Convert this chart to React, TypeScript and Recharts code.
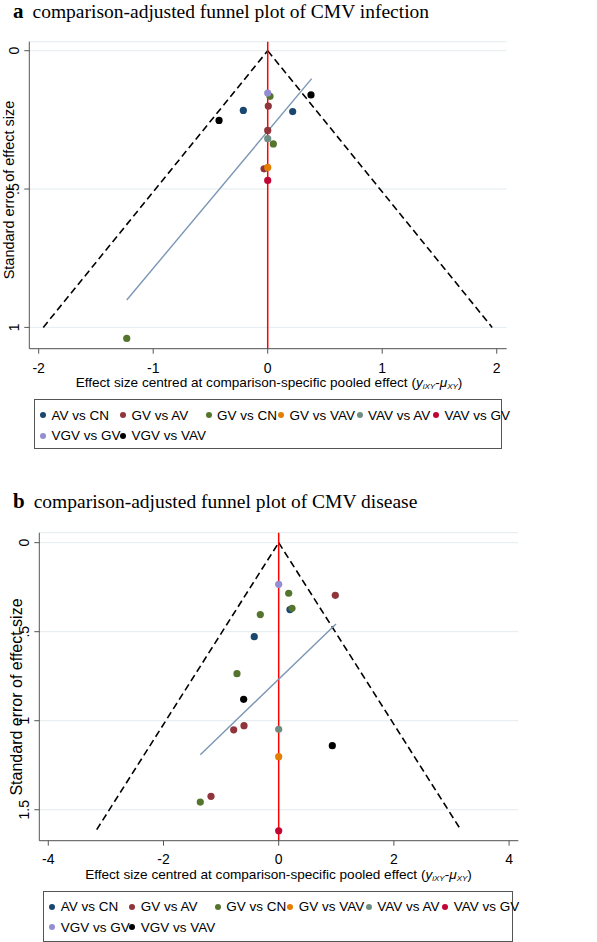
import React from 'react';
import { ComposedChart, Scatter, XAxis, YAxis, CartesianGrid, ReferenceLine } from 'recharts';

type Pt = { x: number; se: number };

const SANS = '"Liberation Sans", Arial, sans-serif';
const SERIF = '"Liberation Serif", "Times New Roman", serif';

// legend order, Stata s2color palette
const comparisons = ['AV vs CN', 'GV vs AV', 'GV vs CN', 'GV vs VAV', 'VAV vs AV', 'VAV vs GV', 'VGV vs GV', 'VGV vs VAV'];
const colors = ['#1a476f', '#90353b', '#55752f', '#e37e00', '#6e8e84', '#c10534', '#938dd2', '#000000'];

// (a) CMV infection
const infAvCn: Pt[] = [{ x: -0.213, se: 0.216 }, { x: 0.218, se: 0.22 }];
const infGvAv: Pt[] = [{ x: 0.005, se: 0.2 }, { x: 0, se: 0.288 }, { x: -0.032, se: 0.427 }];
const infGvCn: Pt[] = [{ x: 0.02, se: 0.165 }, { x: 0.049, se: 0.337 }, { x: -1.231, se: 1.04 }];
const infGvVav: Pt[] = [{ x: 0, se: 0.422 }];
const infVavAv: Pt[] = [{ x: 0, se: 0.318 }];
const infVavGv: Pt[] = [{ x: 0, se: 0.469 }];
const infVgvGv: Pt[] = [{ x: 0, se: 0.153 }];
const infVgvVav: Pt[] = [{ x: 0.378, se: 0.16 }, { x: -0.425, se: 0.252 }];
const infFit: Pt[] = [{ x: -1.231, se: 0.901 }, { x: 0.384, se: 0.101 }];
const infFunnelSe = 1.0;
const infXTicks = [-2, -1, 0, 1, 2];
const infYTicks = [0, 0.5, 1];
const infYLabels = ['0', '.5', '1'];

// (b) CMV disease
const disAvCn: Pt[] = [{ x: 0.196, se: 0.376 }, { x: -0.424, se: 0.528 }];
const disGvAv: Pt[] = [{ x: 0.983, se: 0.296 }, { x: -0.602, se: 1.028 }, { x: -0.781, se: 1.051 }, { x: -1.175, se: 1.425 }];
const disGvCn: Pt[] = [{ x: 0.174, se: 0.284 }, { x: 0.231, se: 0.369 }, { x: -0.319, se: 0.404 }, { x: -0.724, se: 0.736 }, { x: -1.361, se: 1.457 }];
const disGvVav: Pt[] = [{ x: 0, se: 1.202 }];
const disVavAv: Pt[] = [{ x: 0, se: 1.048 }];
const disVavGv: Pt[] = [{ x: 0, se: 1.618 }];
const disVgvGv: Pt[] = [{ x: 0, se: 0.234 }];
const disVgvVav: Pt[] = [{ x: -0.608, se: 0.88 }, { x: 0.931, se: 1.14 }];
const disFit: Pt[] = [{ x: -1.361, se: 1.191 }, { x: 0.995, se: 0.457 }];
const disFunnelSe = 1.612;
const disXTicks = [-4, -2, 0, 2, 4];
const disYTicks = [0, 0.5, 1, 1.5];
const disYLabels = ['0', '.5', '1', '1.5'];

interface PanelProps {
  top: number;
  height: number;
  marginTop: number;
  marginRight: number;
  yAxisWidth: number;
  xAxisHeight: number;
  xTickMargin: number;
  xDomain: [number, number];
  yDomain: [number, number];
  xTicks: number[];
  yTicks: number[];
  yLabels: string[];
  series: Pt[][];
  fit: Pt[];
  funnelSe: number;
}

const FunnelPanel = (p: PanelProps) => {
  const yTick = (props: any) => {
    const { x, y, payload } = props;
    const i = p.yTicks.indexOf(payload.value);
    return (
      <text x={x} y={y} transform={`rotate(-90 ${x} ${y})`} textAnchor="middle" fontSize={14} fontFamily={SANS} fill="#000">
        {i >= 0 ? p.yLabels[i] : payload.value}
      </text>
    );
  };
  const lim = 1.96 * p.funnelSe;
  return (
    <div style={{ position: 'absolute', left: 0, top: p.top }}>
      <ComposedChart width={597} height={p.height} margin={{ top: p.marginTop, right: p.marginRight, bottom: 0, left: 0 }}>
        <CartesianGrid vertical={false} stroke="#e2ecf0" />
        <XAxis
          type="number"
          dataKey="x"
          domain={p.xDomain}
          ticks={p.xTicks}
          allowDataOverflow
          height={p.xAxisHeight}
          tickSize={5}
          tickMargin={p.xTickMargin}
          stroke="#555"
          tick={{ fontSize: 14, fontFamily: SANS, fill: '#000' }}
        />
        <YAxis
          type="number"
          dataKey="se"
          reversed
          domain={p.yDomain}
          ticks={p.yTicks}
          allowDataOverflow
          width={p.yAxisWidth}
          tickSize={5}
          tickMargin={5}
          stroke="#555"
          tick={yTick}
        />
        <ReferenceLine segment={[{ x: -lim, y: p.funnelSe }, { x: 0, y: 0 }]} stroke="#000" strokeWidth={1.6} strokeDasharray="7 4" />
        <ReferenceLine segment={[{ x: 0, y: 0 }, { x: lim, y: p.funnelSe }]} stroke="#000" strokeWidth={1.6} strokeDasharray="7 4" />
        <ReferenceLine x={0} stroke="#ff0000" strokeWidth={1.5} />
        <ReferenceLine segment={[{ x: p.fit[0].x, y: p.fit[0].se }, { x: p.fit[1].x, y: p.fit[1].se }]} stroke="#7b96b5" strokeWidth={1.4} />
        {p.series.map((d, i) => (
          <Scatter
            key={comparisons[i]}
            name={comparisons[i]}
            data={d}
            fill={colors[i]}
            isAnimationActive={false}
            shape={(s: any) => <circle cx={s.cx} cy={s.cy} r={3.6} fill={colors[i]} />}
          />
        ))}
      </ComposedChart>
    </div>
  );
};

const XTitle = ({ cx, cy }: { cx: number; cy: number }) => (
  <div
    style={{
      position: 'absolute', left: cx, top: cy, transform: 'translate(-50%, -50%)',
      whiteSpace: 'nowrap', fontFamily: SANS, fontSize: 13.6, lineHeight: 1, color: '#000',
    }}
  >
    Effect size centred at comparison-specific pooled effect (<i>y</i>
    <span style={{ fontSize: 8, fontStyle: 'italic', position: 'relative', top: 2 }}>iXY</span>-<i>μ</i>
    <span style={{ fontSize: 8, fontStyle: 'italic', position: 'relative', top: 2 }}>XY</span>)
  </div>
);

const YTitle = ({ cx, cy, size }: { cx: number; cy: number; size: number }) => (
  <div
    style={{
      position: 'absolute', left: cx, top: cy, transform: 'translate(-50%, -50%) rotate(-90deg)',
      whiteSpace: 'nowrap', fontFamily: SANS, fontSize: size, lineHeight: 1, color: '#000',
    }}
  >
    Standard error of effect size
  </div>
);

const Title = ({ letter, text, baseline }: { letter: string; text: string; baseline: number }) => (
  <div style={{ position: 'absolute', left: 13, top: baseline - 16, fontFamily: SERIF, fontSize: 19.5, lineHeight: '20px', whiteSpace: 'nowrap', color: '#000' }}>
    <b style={{ fontSize: 21, marginRight: 9 }}>{letter}</b>
    {text}
  </div>
);

// dot centres of legend columns, relative to the box
const legendCols = [8, 88, 173.5, 246, 324.5, 401];

const Legend = ({ left, top, width, height }: { left: number; top: number; width: number; height: number }) => (
  <div style={{ position: 'absolute', left, top, width, height, border: '1.3px solid #555', boxSizing: 'border-box' }}>
    {comparisons.map((name, i) => {
      const col = i % 6;
      const row = Math.floor(i / 6);
      return (
        <div
          key={name}
          style={{
            position: 'absolute', left: legendCols[col] - 3, top: (row === 0 ? 15 : 35.5) - 8, height: 16,
            display: 'flex', alignItems: 'center', whiteSpace: 'nowrap', fontFamily: SANS, fontSize: 13.5, color: '#000',
          }}
        >
          <span style={{ width: 6, height: 6, borderRadius: 3, background: colors[i], marginRight: 5.5, flex: 'none' }} />
          {name}
        </div>
      );
    })}
  </div>
);

const App = () => (
  <div style={{ position: 'absolute', left: 0, top: 0, width: 597, height: 942, background: '#fff', overflow: 'hidden' }}>
    <Title letter="a" text="comparison-adjusted funnel plot of CMV infection" baseline={17} />
    <FunnelPanel
      top={0}
      height={400}
      marginTop={41.7}
      marginRight={90.3}
      yAxisWidth={29.3}
      xAxisHeight={51.3}
      xTickMargin={9}
      xDomain={[-2.082, 2.087]}
      yDomain={[-0.0325, 1.077]}
      xTicks={infXTicks}
      yTicks={infYTicks}
      yLabels={infYLabels}
      series={[infAvCn, infGvAv, infGvCn, infGvVav, infVavAv, infVavGv, infVgvGv, infVgvVav]}
      fit={infFit}
      funnelSe={infFunnelSe}
    />
    <YTitle cx={9} cy={190} size={14.5} />
    <XTitle cx={269} cy={382.7} />
    <Legend left={34} top={399.3} width={467.7} height={49.7} />

    <Title letter="b" text="comparison-adjusted funnel plot of CMV disease" baseline={507} />
    <FunnelPanel
      top={480}
      height={400}
      marginTop={52.7}
      marginRight={78.7}
      yAxisWidth={39.3}
      xAxisHeight={39.3}
      xTickMargin={8}
      xDomain={[-4.156, 4.16]}
      yDomain={[-0.056, 1.674]}
      xTicks={disXTicks}
      yTicks={disYTicks}
      yLabels={disYLabels}
      series={[disAvCn, disGvAv, disGvCn, disGvVav, disVavAv, disVavGv, disVgvGv, disVgvVav]}
      fit={disFit}
      funnelSe={disFunnelSe}
    />
    <YTitle cx={17} cy={696.5} size={16} />
    <XTitle cx={278.5} cy={875} />
    <Legend left={43.3} top={890.7} width={470} height={51.3} />
  </div>
);

export default App;
